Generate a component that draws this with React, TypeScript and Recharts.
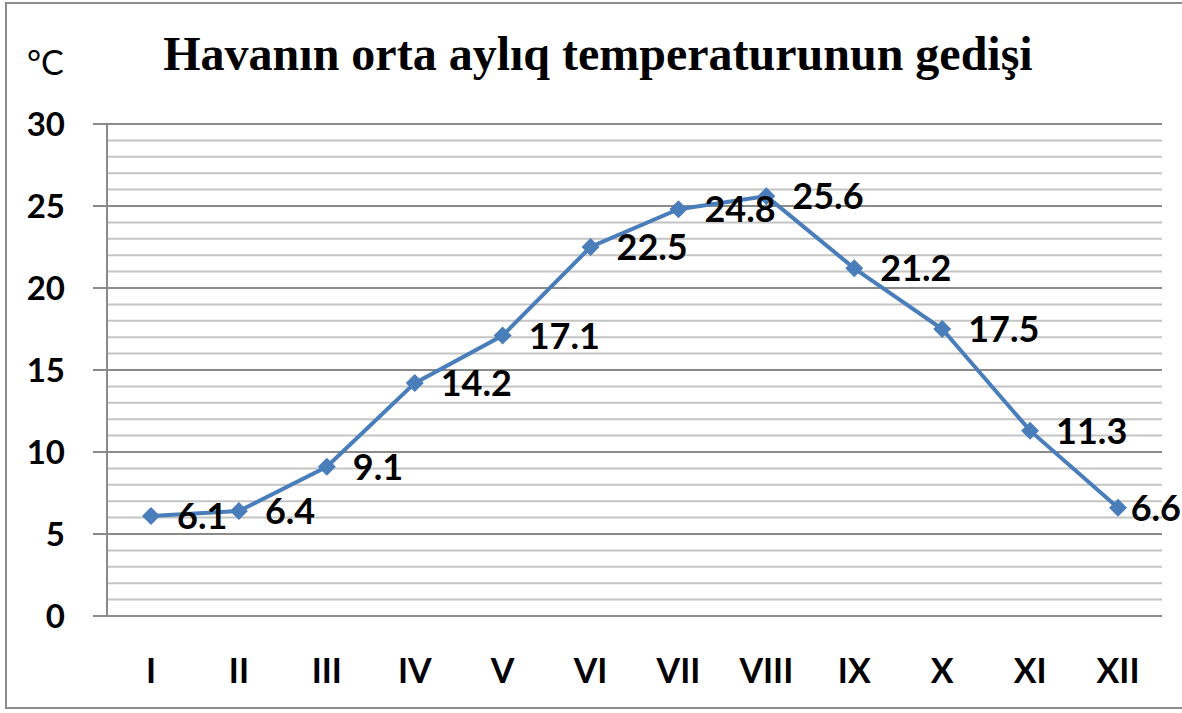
import { LineChart, Line, XAxis, YAxis, ReferenceLine } from "recharts"

const months = ["I", "II", "III", "IV", "V", "VI", "VII", "VIII", "IX", "X", "XI", "XII"]
const temps = [6.1, 6.4, 9.1, 14.2, 17.1, 22.5, 24.8, 25.6, 21.2, 17.5, 11.3, 6.6]
const yTicks = [0, 5, 10, 15, 20, 25, 30]
const gridValues = [1, 2, 3, 4, 5, 6, 7, 8, 9, 10, 11, 12, 13, 14, 15, 16, 17, 18, 19, 20, 21, 22, 23, 24, 25, 26, 27, 28, 29, 30]
const boundaries = [0, 1, 2, 3, 4, 5, 6, 7, 8, 9, 10, 11, 12]

const data = months.map((m, i) => ({ month: m, temp: temps[i] }))

const blue = "#4a7ebb"
const font = "Lato, 'Open Sans', sans-serif"

const Diamond = (p: any) => {
  const { cx, cy } = p
  if (cx == null || cy == null) return null
  const r = 9
  return <path d={`M${cx},${cy - r}L${cx + r},${cy}L${cx},${cy + r}L${cx - r},${cy}Z`} fill={blue} />
}

// data labels sit right of the point; the last one is pulled back inside the frame
const ValueLabel = (p: any) => {
  const { x, y, value } = p
  const tooFar = x + 26 + 52 > 1182
  return (
    <text
      x={tooFar ? 1181 : x + 26}
      y={y + 13}
      textAnchor={tooFar ? "end" : "start"}
      fontSize={36}
      fontWeight={700}
      fontFamily={font}
      fill="#000"
    >
      {value}
    </text>
  )
}

const YTick = (p: any) => {
  const { y, payload } = p
  return (
    <text x={65} y={y + 12} textAnchor="end" fontSize={33} fontWeight={700} fontFamily={font} fill="#000">
      {payload.value}
    </text>
  )
}

const XTick = (p: any) => {
  const { x, payload } = p
  return (
    <text x={x} y={683} textAnchor="middle" fontSize={34} fontWeight={700} fontFamily={font} fill="#000">
      {payload.value}
    </text>
  )
}

export default function App() {
  return (
    <div style={{ position: "relative", width: 1182, height: 713, background: "#fff", overflow: "hidden" }}>
      <style>{`body{margin:0}`}</style>
      <div style={{ position: "absolute", left: 5, top: 2, width: 1190, height: 707, border: "2px solid #8c8c8c", boxSizing: "border-box" }} />
      <div style={{ position: "absolute", left: 0, top: 26, width: 1196, textAlign: "center", fontFamily: "'Liberation Serif', 'Times New Roman', serif", fontWeight: 700, fontSize: 48, color: "#000", lineHeight: "56px" }}>
        Havanın orta aylıq temperaturunun gedişi
      </div>
      <div style={{ position: "absolute", left: 27, top: 42, fontFamily: font, fontSize: 34, color: "#000", lineHeight: "40px" }}>
        °C
      </div>
      <div style={{ position: "absolute", left: 0, top: 0 }}>
        <LineChart width={1182} height={713} data={data} margin={{ top: 124, right: 20, left: 0, bottom: 37 }}>
          {gridValues.map((v) => (
            <ReferenceLine key={v} y={v} stroke={v % 5 === 0 ? "#8a8a8a" : "#c4c4c4"} strokeWidth={2} ifOverflow="extendDomain" />
          ))}
          <XAxis
            xAxisId="b"
            type="number"
            domain={[0, 12]}
            ticks={boundaries}
            tick={false}
            tickSize={14}
            tickLine={{ stroke: "#8a8a8a", strokeWidth: 2 }}
            axisLine={false}
            height={0}
            allowDataOverflow
          />
          <XAxis
            dataKey="month"
            padding={{ left: 44, right: 44 }}
            tick={<XTick />}
            tickLine={false}
            axisLine={{ stroke: "#8a8a8a", strokeWidth: 2 }}
            height={60}
            interval={0}
          />
          <YAxis
            domain={[0, 30]}
            ticks={yTicks}
            width={107}
            tickSize={14}
            tickLine={{ stroke: "#8a8a8a", strokeWidth: 2 }}
            axisLine={{ stroke: "#8a8a8a", strokeWidth: 2 }}
            tick={<YTick />}
            interval={0}
          />
          <Line
            dataKey="temp"
            type="linear"
            stroke={blue}
            strokeWidth={4}
            dot={<Diamond />}
            activeDot={false}
            label={<ValueLabel />}
            isAnimationActive={false}
          />
        </LineChart>
      </div>
    </div>
  )
}
